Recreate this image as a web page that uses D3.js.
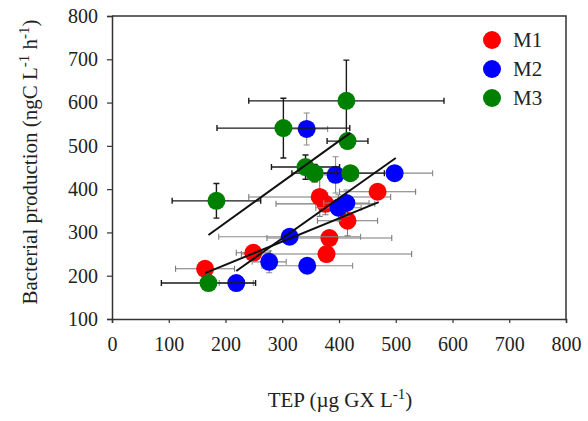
<!DOCTYPE html>
<html>
<head>
<meta charset="utf-8">
<script src="https://cdn.jsdelivr.net/npm/d3@7"></script>
<style>
  body { margin: 0; background: #fff; }
  text { font-family: "Liberation Serif", "Times New Roman", serif; fill: #222; }
</style>
</head>
<body>
<div id="chart"></div>
<script>
// data
const seriesNames = ["M1", "M2", "M3"];

const m1TEP    = [164, 249, 378, 383, 415, 366, 376, 468];
const m1BP     = [216, 253, 250, 287, 327, 382, 366, 394];
const m1TEPerr = [52, 30, 150, 110, 53, 125, 87, 67];
const m1BPerr  = [10, 12, 10, 12, 35, 45, 25, 15];

const m2TEP    = [343, 394, 498, 399, 413, 313, 277, 344, 219];
const m2BP     = [539, 433, 437, 357, 368, 290, 232, 223, 183];
const m2TEPerr = [37, 40, 67, 40, 40, 125, 30, 80, 30];
const m2BPerr  = [37, 42, 12, 30, 30, 12, 25, 15, 10];

const m3TEP    = [413, 415, 302, 184, 170, 420, 341, 357];
const m3BP     = [604, 511, 541, 373, 183, 437, 451, 437];
const m3TEPerr = [172, 36, 117, 78, 83, 60, 60, 40];
const m3BPerr  = [94, 12, 69, 40, 10, 15, 28, 20];

// regression line end points
const fitTEP = [[164, 470], [219, 500], [170, 420]];
const fitBP  = [[206, 370], [211, 472], [294, 530]];

const xTicks = [0, 100, 200, 300, 400, 500, 600, 700, 800];
const yTicks = [100, 200, 300, 400, 500, 600, 700, 800];

function graph(){

	//sizing
	let width = 588, height = 421;
	let margin = {top: 16, right: 22, bottom: 102, left: 112};

	let svg = d3.select("#chart")
		.append("svg")
		.attr("width", width)
		.attr("height", height);

	let x = d3.scaleLinear().domain([0, 800]).range([margin.left, width - margin.right]);
	let y = d3.scaleLinear().domain([100, 800]).range([height - margin.bottom, margin.top]);

	let colors = d3.scaleOrdinal()
		.domain(seriesNames)
		.range(["#ff0000", "#0000ff", "#008000"]);

	let barColors = d3.scaleOrdinal()
		.domain(seriesNames)
		.range(["#7a7a7a", "#8a8a8a", "#1a1a1a"]);

	//frame
	svg.append("path")
		.attr("d", `M${x(0)},${y(800)}H${x(800)}V${y(100)}`)
		.attr("fill", "none")
		.attr("stroke", "#333")
		.attr("stroke-width", 1.5);

	//axes
	let xAxis = svg.append("g")
		.attr("transform", `translate(0,${y(100)})`)
		.call(d3.axisBottom(x).tickValues(xTicks).tickSize(4).tickPadding(14));
	let yAxis = svg.append("g")
		.attr("transform", `translate(${x(0)},0)`)
		.call(d3.axisLeft(y).tickValues(yTicks).tickSize(5).tickPadding(9));

	[xAxis, yAxis].forEach(a => {
		a.attr("font-family", null).attr("font-size", null);
		a.select(".domain").attr("stroke", "#333").attr("stroke-width", 1.5);
		a.selectAll(".tick line").attr("stroke", "#333").attr("stroke-width", 1.2);
		a.selectAll(".tick text")
			.style("font-family", "'Liberation Serif', serif")
			.style("font-size", "20px")
			.attr("fill", "#222");
	});

	//points
	let series = [
		{name: "M1", tep: m1TEP, bp: m1BP, te: m1TEPerr, be: m1BPerr},
		{name: "M2", tep: m2TEP, bp: m2BP, te: m2TEPerr, be: m2BPerr},
		{name: "M3", tep: m3TEP, bp: m3BP, te: m3TEPerr, be: m3BPerr}
	];

	let plot = svg.append("g");
	let cap = 3;

	series.forEach(s => {
		let pts = s.tep.map((v, i) => ({x: v, y: s.bp[i], xe: s.te[i], ye: s.be[i]}));
		let bars = plot.append("g")
			.attr("stroke", barColors(s.name))
			.attr("stroke-width", s.name === "M3" ? 1.4 : 1.1)
			.attr("fill", "none");
		bars.selectAll("path.xe")
			.data(pts)
			.join("path")
			.attr("d", d => `M${x(d.x - d.xe)},${y(d.y)}H${x(d.x + d.xe)}`
				+ `M${x(d.x - d.xe)},${y(d.y) - cap}V${y(d.y) + cap}`
				+ `M${x(d.x + d.xe)},${y(d.y) - cap}V${y(d.y) + cap}`);
		bars.selectAll("path.ye")
			.data(pts)
			.join("path")
			.attr("d", d => `M${x(d.x)},${y(d.y - d.ye)}V${y(d.y + d.ye)}`
				+ `M${x(d.x) - cap},${y(d.y - d.ye)}H${x(d.x) + cap}`
				+ `M${x(d.x) - cap},${y(d.y + d.ye)}H${x(d.x) + cap}`);

		plot.append("g")
			.selectAll("circle")
			.data(pts)
			.join("circle")
			.attr("cx", d => x(d.x))
			.attr("cy", d => y(d.y))
			.attr("r", 9)
			.attr("fill", colors(s.name));
	});

	//regression lines
	plot.append("g")
		.selectAll("line")
		.data(seriesNames)
		.join("line")
		.attr("x1", (d, i) => x(fitTEP[i][0]))
		.attr("x2", (d, i) => x(fitTEP[i][1]))
		.attr("y1", (d, i) => y(fitBP[i][0]))
		.attr("y2", (d, i) => y(fitBP[i][1]))
		.attr("stroke", "#111")
		.attr("stroke-width", 2);

	//legend
	let legend = svg.append("g")
		.selectAll("g")
		.data(seriesNames)
		.join("g")
		.attr("transform", (d, i) => `translate(492,${40 + i * 29})`);
	legend.append("circle")
		.attr("r", 9)
		.attr("fill", d => colors(d));
	legend.append("text")
		.attr("x", 21)
		.attr("dy", "0.35em")
		.style("font-size", "21px")
		.text(d => d);

	//axis titles
	let xt = svg.append("text")
		.attr("x", 340)
		.attr("y", 407)
		.attr("text-anchor", "middle")
		.style("font-size", "21px");
	xt.append("tspan").text("TEP (\u00b5g GX L");
	xt.append("tspan").attr("dy", -8).style("font-size", "15px").text("-1");
	xt.append("tspan").attr("dy", 8).text(")");

	let yt = svg.append("text")
		.attr("transform", "translate(37,162) rotate(-90)")
		.attr("text-anchor", "middle")
		.style("font-size", "21px");
	yt.append("tspan").text("Bacterial production (ngC L");
	yt.append("tspan").attr("dy", -8).style("font-size", "15px").text("-1");
	yt.append("tspan").attr("dy", 8).text(" h");
	yt.append("tspan").attr("dy", -8).style("font-size", "15px").text("-1");
	yt.append("tspan").attr("dy", 8).text(")");

}

graph();
</script>
</body>
</html>
